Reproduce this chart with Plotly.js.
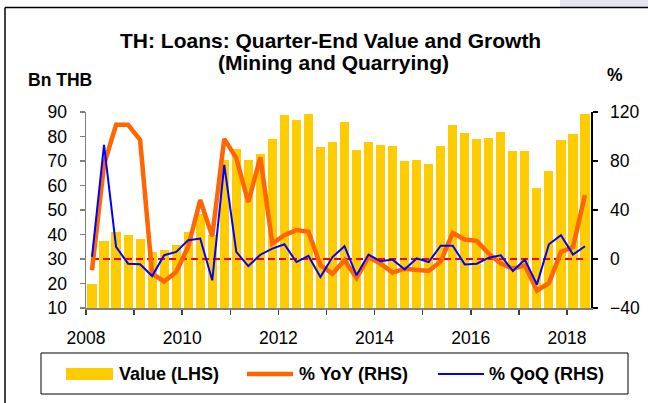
<!DOCTYPE html>
<html>
<head>
<meta charset="utf-8">
<script src="https://cdn.plot.ly/plotly-3.0.1.min.js"></script>
<style>
  html, body { margin: 0; padding: 0; background: #ffffff; }
  #chart { width: 648px; height: 403px; }
</style>
</head>
<body>
<div id="chart"></div>
<script>
// Quarters 2008Q1 .. 2018Q2
const quarters = [
  "2008Q1","2008Q2","2008Q3","2008Q4","2009Q1","2009Q2","2009Q3","2009Q4",
  "2010Q1","2010Q2","2010Q3","2010Q4","2011Q1","2011Q2","2011Q3","2011Q4",
  "2012Q1","2012Q2","2012Q3","2012Q4","2013Q1","2013Q2","2013Q3","2013Q4",
  "2014Q1","2014Q2","2014Q3","2014Q4","2015Q1","2015Q2","2015Q3","2015Q4",
  "2016Q1","2016Q2","2016Q3","2016Q4","2017Q1","2017Q2","2017Q3","2017Q4",
  "2018Q1","2018Q2"
];
// Value (Bn THB, LHS)
const valueLHS = [
  19.6, 37.3, 41.1, 39.7, 38.1, 32.8, 33.7, 35.8,
  41.2, 48.5, 39.9, 70.5, 74.8, 70.3, 72.9, 78.9,
  88.8, 86.9, 89.3, 75.8, 77.7, 86.0, 74.6, 77.7,
  76.6, 76.3, 70.1, 70.6, 68.8, 76.3, 84.9, 81.5,
  78.8, 79.3, 81.8, 74.0, 74.0, 59.0, 65.8, 78.4,
  81.1, 89.3
];
// % YoY (RHS)
const yoyRHS = [
  -9.2, 77.0, 109.6, 109.6, 97.3, -12.0, -18.3, -10.6,
  10.1, 48.1, 18.6, 98.1, 82.3, 46.5, 83.0, 12.6,
  19.5, 23.6, 22.2, -5.1, -12.0, -1.0, -15.5, 1.7,
  -3.8, -11.1, -7.9, -9.2, -9.8, -2.0, 21.3, 15.9,
  14.8, 4.4, -3.8, -7.9, -5.2, -25.7, -19.7, 5.7,
  9.8, 52.2
];
// % QoQ (RHS)
const qoqRHS = [
  1.7, 93.2, 9.9, -3.8, -4.3, -13.9, 3.1, 5.8,
  15.4, 16.7, -17.4, 76.8, 5.8, -5.8, 3.5, 8.5,
  12.0, -2.5, 2.5, -14.8, 1.6, 10.4, -13.3, 3.6,
  -1.9, -0.5, -8.5, 0.5, -2.5, 10.9, 10.9, -4.4,
  -3.8, 1.1, 3.0, -9.8, -0.5, -20.8, 12.0, 19.4,
  3.6, 10.4
];
const yearTicks = [2008,2009,2010,2011,2012,2013,2014,2015,2016,2017,2018];
const yearLabels = ["2008","","2010","","2012","","2014","","2016","","2018"];
const leftTicks = [10,20,30,40,50,60,70,80,90];
const rightTicks = [-40,0,40,80,120];

// quarter label -> mid-quarter position in years
const xq = quarters.map(q => {
  const y = parseInt(q.slice(0,4), 10);
  const k = parseInt(q.slice(5), 10);
  return y + (k - 1) * 0.25 + 0.125;
});
const zeroLine = quarters.map(() => 0);

// layout geometry (pixels)
const W = 648, H = 403;
const L = 86, R = 591, T = 112, B = 308;
const px = p => (p - L) / (R - L);
const py = p => (B - p) / (B - T);

const FONT = "Liberation Sans, Arial, sans-serif";

const traces = [
  { type: "bar", x: xq, y: valueLHS, width: 0.19, name: "Value (LHS)",
    marker: { color: "#FFCC00", line: { width: 0 } }, yaxis: "y", showlegend: false,
    hoverinfo: "x+y" },
  { type: "scatter", mode: "lines", x: xq, y: zeroLine, yaxis: "y2",
    line: { color: "#FF0000", width: 2, dash: "7px,4px" }, showlegend: false, hoverinfo: "skip" },
  { type: "scatter", mode: "lines", x: xq, y: yoyRHS, yaxis: "y2", name: "% YoY (RHS)",
    line: { color: "#FF6600", width: 4.5 }, showlegend: false },
  { type: "scatter", mode: "lines", x: xq, y: qoqRHS, yaxis: "y2", name: "% QoQ (RHS)",
    line: { color: "#0000FF", width: 2 }, showlegend: false }
];

const legendY = 374;
const shapes = [
  // outer frame (left and top edges visible)
  { type: "rect", xref: "paper", yref: "paper", x0: px(560), x1: px(648), y0: py(7), y1: py(0),
    fillcolor: "#E6E6F2", line: { width: 0 }, layer: "below" },
  { type: "line", xref: "paper", yref: "paper", x0: px(5), x1: px(648), y0: py(7.5), y1: py(7.5),
    line: { color: "#000000", width: 1.5 } },
  { type: "line", xref: "paper", yref: "paper", x0: px(5), x1: px(5), y0: py(7.5), y1: py(403),
    line: { color: "#000000", width: 1.5 } },
  // legend box
  { type: "rect", xref: "paper", yref: "paper", x0: px(41), x1: px(628), y0: py(394), y1: py(353),
    line: { color: "#000000", width: 1 }, fillcolor: "rgba(0,0,0,0)" },
  // legend swatches
  { type: "rect", xref: "paper", yref: "paper", x0: px(66), x1: px(113), y0: py(380), y1: py(368),
    fillcolor: "#FFCC00", line: { width: 0 } },
  { type: "line", xref: "paper", yref: "paper", x0: px(247), x1: px(293), y0: py(legendY), y1: py(legendY),
    line: { color: "#FF6600", width: 4.5 } },
  { type: "line", xref: "paper", yref: "paper", x0: px(438), x1: px(484), y0: py(legendY), y1: py(legendY),
    line: { color: "#0000FF", width: 2 } }
];

const ann = (text, x, y, xanchor, size, bold) => ({
  text: text, xref: "paper", yref: "paper", x: px(x), y: py(y),
  xanchor: xanchor, yanchor: "middle", showarrow: false,
  font: { family: FONT, size: size, color: "#000000", weight: bold ? "bold" : "normal" }
});

const annotations = [
  ann("TH: Loans: Quarter-End Value and Growth", 330, 40, "center", 21, true),
  ann("(Mining and Quarrying)", 333, 62, "center", 21, true),
  ann("Bn THB", 26, 80, "left", 17.5, true),
  ann("%", 615, 75, "center", 17.5, true),
  ann("Value (LHS)", 117, legendY, "left", 18, true),
  ann("% YoY (RHS)", 297, legendY, "left", 18, true),
  ann("% QoQ (RHS)", 487, legendY, "left", 18, true)
];

const layout = {
  width: W, height: H,
  margin: { l: L, r: W - R, t: T, b: H - B, pad: 0 },
  paper_bgcolor: "#ffffff", plot_bgcolor: "#ffffff",
  showlegend: false,
  bargap: 0,
  font: { family: FONT, size: 17.5, color: "#000000" },
  xaxis: {
    range: [2008, 2018.5], tickvals: yearTicks, ticktext: yearLabels,
    showgrid: false, zeroline: false, showline: true, linecolor: "#808080", linewidth: 1.5,
    ticks: "outside", ticklen: 5, tickcolor: "#404040", tickwidth: 1.5,
    ticklabelstandoff: 8,
    tickfont: { family: FONT, size: 17.5, color: "#000000" }
  },
  yaxis: {
    range: [10, 90], tickvals: leftTicks,
    showgrid: false, zeroline: false, showline: true, linecolor: "#808080", linewidth: 1.5,
    ticks: "outside", ticklen: 5, tickcolor: "#808080", tickwidth: 1.5,
    ticklabelstandoff: 9,
    tickfont: { family: FONT, size: 17.5, color: "#000000" }
  },
  yaxis2: {
    range: [-40, 120], tickvals: rightTicks, overlaying: "y", side: "right",
    showgrid: false, zeroline: false, showline: true, linecolor: "#000000", linewidth: 1.5,
    ticks: "outside", ticklen: 5, tickcolor: "#000000", tickwidth: 1.5,
    ticklabelstandoff: 9,
    tickfont: { family: FONT, size: 17.5, color: "#000000" }
  },
  shapes: shapes,
  annotations: annotations
};

Plotly.newPlot("chart", traces, layout, { displayModeBar: false, staticPlot: true });
</script>
</body>
</html>
